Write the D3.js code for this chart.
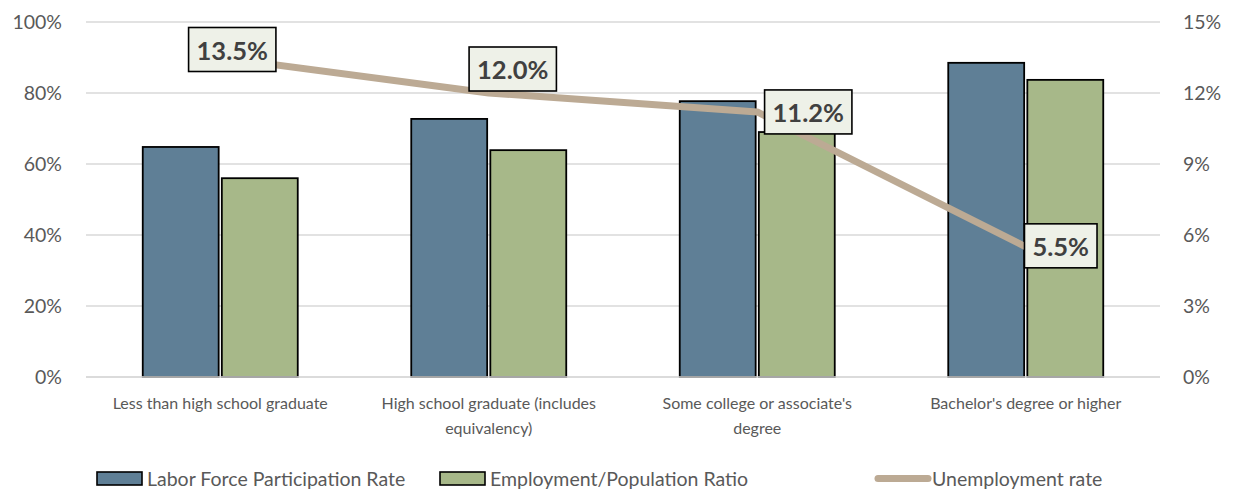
<!DOCTYPE html>
<html><head><meta charset="utf-8">
<script src="https://cdn.jsdelivr.net/npm/d3@7"></script>
<style>body{margin:0;background:#fff}svg{display:block}</style>
</head><body>
<svg id="c" width="1233" height="491"></svg>
<script>
const categories = ["Less than high school graduate", "High school graduate (includes equivalency)", "Some college or associate's degree", "Bachelor's degree or higher"];
const laborForce = [64.8, 72.7, 77.7, 88.5];
const employment = [56.0, 63.9, 69.0, 83.7];
const unemployment = [13.5, 12.0, 11.2, 5.5];
const leftTicks = [0, 20, 40, 60, 80, 100];
const rightTicks = [0, 3, 6, 9, 12, 15];
const seriesNames = ["Labor Force Participation Rate", "Employment/Population Ratio", "Unemployment rate"];

const FONT = "Lato, 'Open Sans', sans-serif";
const svg = d3.select("#c");
const L = 86, R = 1160, T = 22, B = 377;
const x = d3.scaleBand().domain(categories).range([L, R]);
const yL = d3.scaleLinear().domain([0, 100]).range([B, T]);
const yR = d3.scaleLinear().domain([0, 15]).range([B, T]);

// gridlines
svg.append("g").selectAll("line").data(leftTicks).join("line")
  .attr("x1", L).attr("x2", R).attr("y1", d => yL(d)).attr("y2", d => yL(d))
  .attr("stroke", "#d9d9d9").attr("stroke-width", 1.3);

// left axis
const gl = svg.append("g").attr("transform", `translate(${L},0)`)
  .call(d3.axisLeft(yL).tickValues(leftTicks).tickFormat(d => d + "%").tickSize(0).tickPadding(24));
gl.select(".domain").remove();
gl.selectAll("text").attr("font-family", FONT).attr("font-size", 19.5).attr("fill", "#595959");

// right axis
const gr = svg.append("g").attr("transform", `translate(${R},0)`)
  .call(d3.axisRight(yR).tickValues(rightTicks).tickFormat(d => d + "%").tickSize(0).tickPadding(23));
gr.select(".domain").remove();
gr.selectAll("text").attr("font-family", FONT).attr("font-size", 19.5).attr("fill", "#595959");

// bars
const inner = d3.scaleBand().domain([0, 1]).range([0, 155]).paddingInner(0.04);
const barColors = ["#5f7f96", "#a7b889"];
const off = x.bandwidth() / 2 - 77.5;
[laborForce, employment].forEach((vals, si) => {
  svg.append("g").selectAll("rect").data(vals).join("rect")
    .attr("x", (d, i) => x(categories[i]) + off + inner(si))
    .attr("y", d => yL(d))
    .attr("width", inner.bandwidth())
    .attr("height", d => B - yL(d))
    .attr("fill", barColors[si]).attr("stroke", "#000").attr("stroke-width", 1.8);
});

// baseline
svg.append("line").attr("x1", L).attr("x2", R).attr("y1", B).attr("y2", B)
  .attr("stroke", "#d9d9d9").attr("stroke-width", 1.3);

// line
const cx = i => x(categories[i]) + x.bandwidth() / 2;
svg.append("path").datum(unemployment)
  .attr("d", d3.line().x((d, i) => cx(i)).y(d => yR(d)))
  .attr("fill", "none").attr("stroke", "#bcaa94").attr("stroke-width", 7).attr("stroke-linejoin", "round");

// data labels (box centre offsets from point)
const labelOffsets = [[12, -8], [24, -24], [51, 0], [35, -1]];
unemployment.forEach((d, i) => {
  const px = cx(i) + labelOffsets[i][0], py = yR(d) + labelOffsets[i][1];
  const g = svg.append("g");
  const t = g.append("text").attr("x", px).attr("y", py).attr("text-anchor", "middle")
    .attr("dominant-baseline", "central").attr("font-family", FONT).attr("font-weight", "bold")
    .attr("font-size", 25.5).attr("fill", "#404040").text(d.toFixed(1) + "%");
  const bb = t.node().getBBox();
  g.insert("rect", "text").attr("x", bb.x - 8).attr("y", py - 22).attr("width", bb.width + 16).attr("height", 44)
    .attr("fill", "#eef1e8").attr("stroke", "#000").attr("stroke-width", 1.6);
});

// category labels
const lines = [["Less than high school graduate"], ["High school graduate (includes", "equivalency)"], ["Some college or associate's", "degree"], ["Bachelor's degree or higher"]];
categories.forEach((c, i) => {
  const t = svg.append("text").attr("x", cx(i)).attr("y", 409).attr("text-anchor", "middle")
    .attr("font-family", FONT).attr("font-size", 16).attr("fill", "#595959");
  lines[i].forEach((ln, j) => t.append("tspan").attr("x", cx(i)).attr("dy", j ? 25 : 0).text(ln));
});

// legend
const leg = [{x: 97, type: "rect", c: barColors[0]}, {x: 440, type: "rect", c: barColors[1]}, {x: 875, type: "line", c: "#bcaa94"}];
leg.forEach((l, i) => {
  if (l.type === "rect") svg.append("rect").attr("x", l.x).attr("y", 472).attr("width", 45).attr("height", 13)
      .attr("fill", l.c).attr("stroke", "#000").attr("stroke-width", 1.6);
  else svg.append("line").attr("x1", l.x + 3).attr("x2", l.x + 53).attr("y1", 478.5).attr("y2", 478.5)
      .attr("stroke", l.c).attr("stroke-width", 7).attr("stroke-linecap", "round");
  svg.append("text").attr("x", l.x + (l.type === "rect" ? 50 : 57)).attr("y", 478.5).attr("dominant-baseline", "central")
    .attr("font-family", FONT).attr("font-size", 19.5).attr("fill", "#595959").text(seriesNames[i]);
});
</script>
</body></html>
